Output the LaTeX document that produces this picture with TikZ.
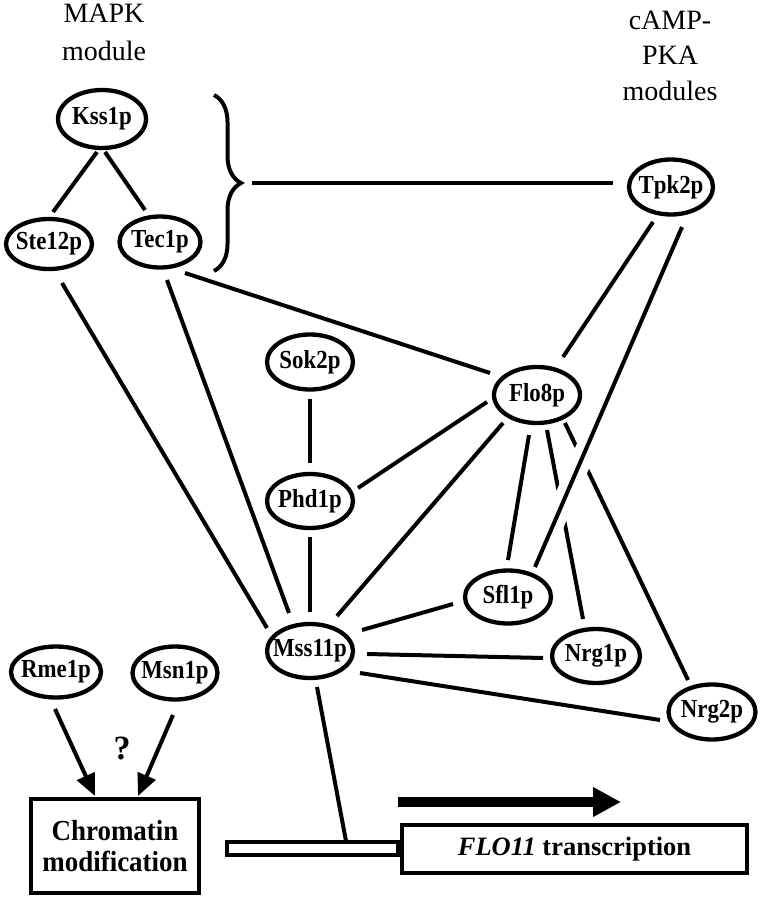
\documentclass[tikz,border=0pt]{standalone}
\usepackage{fontspec}
\setmainfont{Liberation Serif}
\newfontfamily\lblfont{Liberation Serif}[FakeStretch=0.88]
\newfontfamily\boxfont{Liberation Serif}[FakeStretch=0.93]
\usetikzlibrary{shapes.geometric, arrows.meta, calc, decorations.pathreplacing}
\begin{document}
\begin{tikzpicture}[x=1pt,y=-1pt,
  prot/.style={ellipse, draw, line width=4.3pt, inner xsep=-16pt, inner ysep=0pt,
    font=\lblfont\fontsize{26}{30}\selectfont\bfseries},
  sz/.style 2 args={minimum width=#1pt, minimum height=#2pt},
  edge/.style={line width=4pt},
  ttl/.style={anchor=base, inner sep=0pt, font=\fontsize{28}{33}\selectfont},
  boxnode/.style={draw, line width=4.5pt, rectangle, inner sep=0pt, fill=white},
  arr/.style={line width=4pt, -{Triangle[length=22pt,width=19pt]}},
]
\useasboundingbox (0,0) rectangle (762,899);

% titles
\node[ttl] (mapkA) at (104,23) {MAPK};
\node[ttl] (mapkB) at (104,60) {module};
\node[ttl] (pkaA) at (670,30) {cAMP-};
\node[ttl] (pkaB) at (670,65) {PKA};
\node[ttl] (pkaC) at (670,100) {modules};

% proteins
\node[prot, sz={88}{58}] (kss) at (102,119) {Kss1p};
\node[prot, sz={86}{50}] (ste) at (49,244) {Ste12p};
\node[prot, sz={81}{51}] (tec) at (160,242) {Tec1p};
\node[prot, sz={84}{55}] (tpk) at (671,187) {Tpk2p};
\node[prot, sz={86}{55}] (sok) at (310,362) {Sok2p};
\node[prot, sz={86}{56}] (flo) at (537,395) {Flo8p};
\node[prot, sz={86}{54}] (phd) at (310,501) {Phd1p};
\node[prot, sz={86}{53}] (sfl) at (508,597) {Sfl1p};
\node[prot, sz={86}{54}] (mss) at (310,651) {Mss11p};
\node[prot, sz={88}{54}] (nrg1) at (596,656) {Nrg1p};
\node[prot, sz={87}{55}] (nrg2) at (712,712) {Nrg2p};
\node[prot, sz={90}{51}] (rme) at (56,672) {Rme1p};
\node[prot, sz={85}{53}] (msn) at (175,673) {Msn1p};

% brace
\draw[line width=4pt, decorate, decoration={brace, amplitude=27pt}] (214,95) -- (214,271);
\coordinate (bracetip) at (242,183);

% boxes
\node[boxnode, minimum width=168pt, minimum height=94pt, align=center,
  font=\boxfont\fontsize{29}{31}\selectfont\bfseries] (chrom) at (115,846) {Chromatin\\modification};
\node[boxnode, line width=4pt, minimum width=171pt, minimum height=13pt] (bar) at (312.5,848.5) {};
\node[boxnode, line width=4pt, minimum width=345pt, minimum height=48pt,
  font=\fontsize{26.5}{30}\selectfont\bfseries] (flo11) at (574.5,849) {\textit{FLO11} transcription};
\node[font=\fontsize{34}{36}\selectfont\bfseries, inner sep=0pt] (q) at (122,748) {?};

% edges
\draw[edge] ($(kss)+(-5,33)$) -- ($(ste)+(4,-32)$);
\draw[edge] ($(kss)+(3,33)$) -- ($(tec)+(-15,-32)$);
\draw[edge, shorten <=10pt] (bracetip) -- ($(tpk)+(-58,-4)$);
\draw[edge] ($(tec)+(25,31)$) -- ($(flo)+(-47,-22)$);
\draw[edge] ($(ste)+(13,39)$) -- ($(mss)+(-43,-23)$);
\draw[edge] ($(tec)+(7,38)$) -- ($(mss)+(-21,-38)$);
\draw[edge] ($(tpk)+(-18,35)$) -- ($(flo)+(26,-38)$);
\draw[edge] ($(sok)+(0,37)$) -- ($(phd)+(0,-38)$);
\draw[edge] ($(phd)+(48,-13)$) -- ($(flo)+(-50,7)$);
\draw[edge] ($(phd)+(0,36)$) -- ($(mss)+(0,-39)$);
\draw[edge] ($(flo)+(-34,28)$) -- ($(mss)+(27,-35)$);
\draw[edge] ($(flo)+(-8,40)$) -- ($(sfl)+(0,-37)$);
\draw[edge] ($(flo)+(10,35)$) -- ($(nrg1)+(-13,-37)$);
\draw[edge] ($(flo)+(28,28)$) -- ($(nrg2)+(-24,-32)$);
\draw[edge] ($(mss)+(52,-21)$) -- ($(sfl)+(-55,7)$);
\draw[edge] ($(mss)+(57,3)$) -- ($(nrg1)+(-53,2)$);
\draw[edge] ($(mss)+(50,22)$) -- ($(nrg2)+(-52,8)$);
\draw[edge, preaction={draw, white, line width=21pt}] ($(tpk)+(11,40)$) -- ($(sfl)+(27,-30)$);
\draw[edge] ($(mss)+(7,36)$) -- ($(bar)+(33.5,-7.5)$);

% arrows
\draw[arr] ($(rme)+(-1,37)$) -- ($(chrom)+(-20,-50)$);
\draw[arr] ($(msn)+(-2,42)$) -- ($(chrom)+(23,-50)$);
\coordinate (bigS) at (398,802);
\coordinate (bigE) at (621,802);
\draw[line width=10pt, -{Triangle[length=28pt,width=28pt]}] (bigS) -- (bigE);
\end{tikzpicture}
\end{document}
